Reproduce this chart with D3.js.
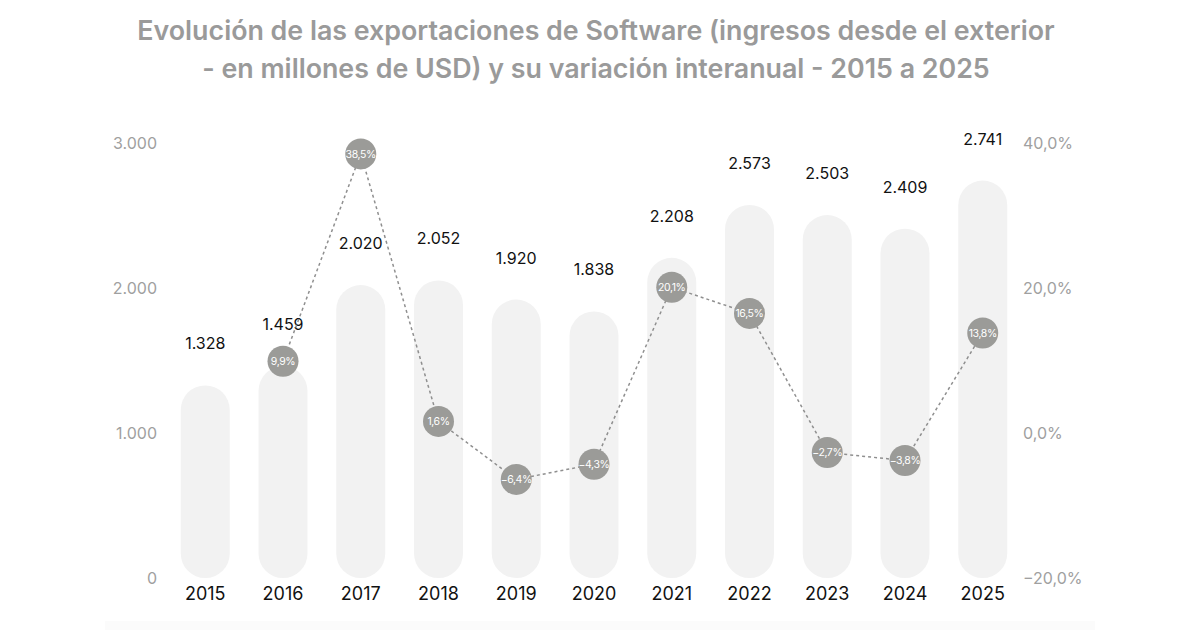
<!DOCTYPE html>
<html>
<head>
<meta charset="utf-8">
<script src="https://cdn.jsdelivr.net/npm/d3@7"></script>
<style>
  body { margin: 0; background: #fff; }
  svg { display: block; font-family: Inter, "Noto Sans", sans-serif; }
</style>
</head>
<body>
<div class="chart"></div>
<script>
//Data
var years = ["2015", "2016", "2017", "2018", "2019", "2020", "2021", "2022", "2023", "2024", "2025"];
var exports = [1328, 1459, 2020, 2052, 1920, 1838, 2208, 2573, 2503, 2409, 2741];
// first year has no variation
var variation = [null, 9.9, 38.5, 1.6, -6.4, -4.3, 20.1, 16.5, -2.7, -3.8, 13.8];
var leftTicks = [0, 1000, 2000, 3000];
var rightTicks = [-20, 0, 20, 40];
var titleLines = [
    "Evolución de las exportaciones de Software (ingresos desde el exterior",
    "- en millones de USD) y su variación interanual - 2015 a 2025"
];

//Width and height
var w = 1200;
var h = 630;

var svg = d3.select(".chart")
    .append("svg")
    .attr("width", w)
    .attr("height", h);

//Number formats (es: "." thousands, "," decimals)
var es = d3.formatLocale({ decimal: ",", thousands: ".", grouping: [3], currency: ["$", ""] });
var fmtInt = es.format(",d");
var fmtPct = es.format(".1f");

//Title
svg.append("g")
    .selectAll("text")
    .data(titleLines)
    .enter()
    .append("text")
    .attr("x", w / 2 - 4)
    .attr("y", (d, i) => 40 + i * 38)
    .attr("text-anchor", "middle")
    .style("font-size", "26.8px")
    .style("font-weight", 600)
    .style("fill", "#9a9a9a")
    .text(d => d);

//Faint band at the bottom
svg.append("rect")
    .attr("x", 105)
    .attr("y", 621)
    .attr("width", 990)
    .attr("height", 9)
    .style("fill", "#fbfbfb");

//Scales
var xScale = d3.scaleBand()
    .domain(years)
    .range([152, 1036])
    .paddingInner(0.37)
    .paddingOuter(0.37);

var yScale = d3.scaleLinear()
    .domain([0, 3000])
    .range([578, 143]);

var yPct = d3.scaleLinear()
    .domain([-20, 40])
    .range([578, 143]);

//Axes (text only)
var yAxisLeft = d3.axisLeft(yScale)
    .tickValues(leftTicks)
    .tickFormat(fmtInt)
    .tickSize(0)
    .tickPadding(0);
var gl = svg.append("g")
    .attr("transform", "translate(157, 0)")
    .call(yAxisLeft);

var yAxisRight = d3.axisRight(yPct)
    .tickValues(rightTicks)
    .tickFormat(d => fmtPct(d).replace("-", "−") + "%")
    .tickSize(0)
    .tickPadding(0);
var gr = svg.append("g")
    .attr("transform", "translate(1023, 0)")
    .call(yAxisRight);

[gl, gr].forEach(g => {
    g.select(".domain").remove();
    g.selectAll("text")
        .style("font-family", "Inter, sans-serif")
        .style("font-size", "16px")
        .style("fill", "#a0a0a0");
});

var xAxis = d3.axisBottom(xScale)
    .tickSize(0)
    .tickPadding(0);
var gx = svg.append("g")
    .attr("transform", "translate(0, 587)")
    .call(xAxis);
gx.select(".domain").remove();
gx.selectAll("text")
    .style("font-family", "Inter, sans-serif")
    .style("font-size", "18px")
    .style("fill", "#111");

//Bars (pill shaped)
var bw = xScale.bandwidth();
svg.selectAll(".bar")
    .data(exports)
    .enter()
    .append("rect")
    .attr("class", "bar")
    .attr("x", (d, i) => xScale(years[i]))
    .attr("y", d => yScale(d))
    .attr("width", bw)
    .attr("height", d => yScale(0) - yScale(d))
    .attr("rx", bw / 2)
    .style("fill", "#f2f2f2");

//Value labels
svg.selectAll(".value")
    .data(exports)
    .enter()
    .append("text")
    .attr("class", "value")
    .attr("x", (d, i) => xScale(years[i]) + bw / 2)
    .attr("y", d => yScale(d) - 36)
    .attr("text-anchor", "middle")
    .style("font-size", "16px")
    .style("fill", "#111")
    .text(d => fmtInt(d));

//Variation line
var pts = variation
    .map((v, i) => ({ year: years[i], v: v }))
    .filter(d => d.v !== null);

var line = d3.line()
    .x(d => xScale(d.year) + bw / 2)
    .y(d => yPct(d.v));

svg.append("path")
    .datum(pts)
    .attr("d", line)
    .style("fill", "none")
    .style("stroke", "#8f8f8f")
    .style("stroke-width", 1.5)
    .style("stroke-dasharray", "3,3");

var dots = svg.selectAll(".dot")
    .data(pts)
    .enter()
    .append("g")
    .attr("class", "dot")
    .attr("transform", d => "translate(" + (xScale(d.year) + bw / 2) + "," + yPct(d.v) + ")");

dots.append("circle")
    .attr("r", 15.5)
    .style("fill", "#9b9b98");

dots.append("text")
    .attr("text-anchor", "middle")
    .attr("dy", "0.35em")
    .style("font-size", "10.5px")
    .style("letter-spacing", "-0.4px")
    .style("fill", "#fff")
    .text(d => fmtPct(d.v) + "%");
</script>
</body>
</html>
